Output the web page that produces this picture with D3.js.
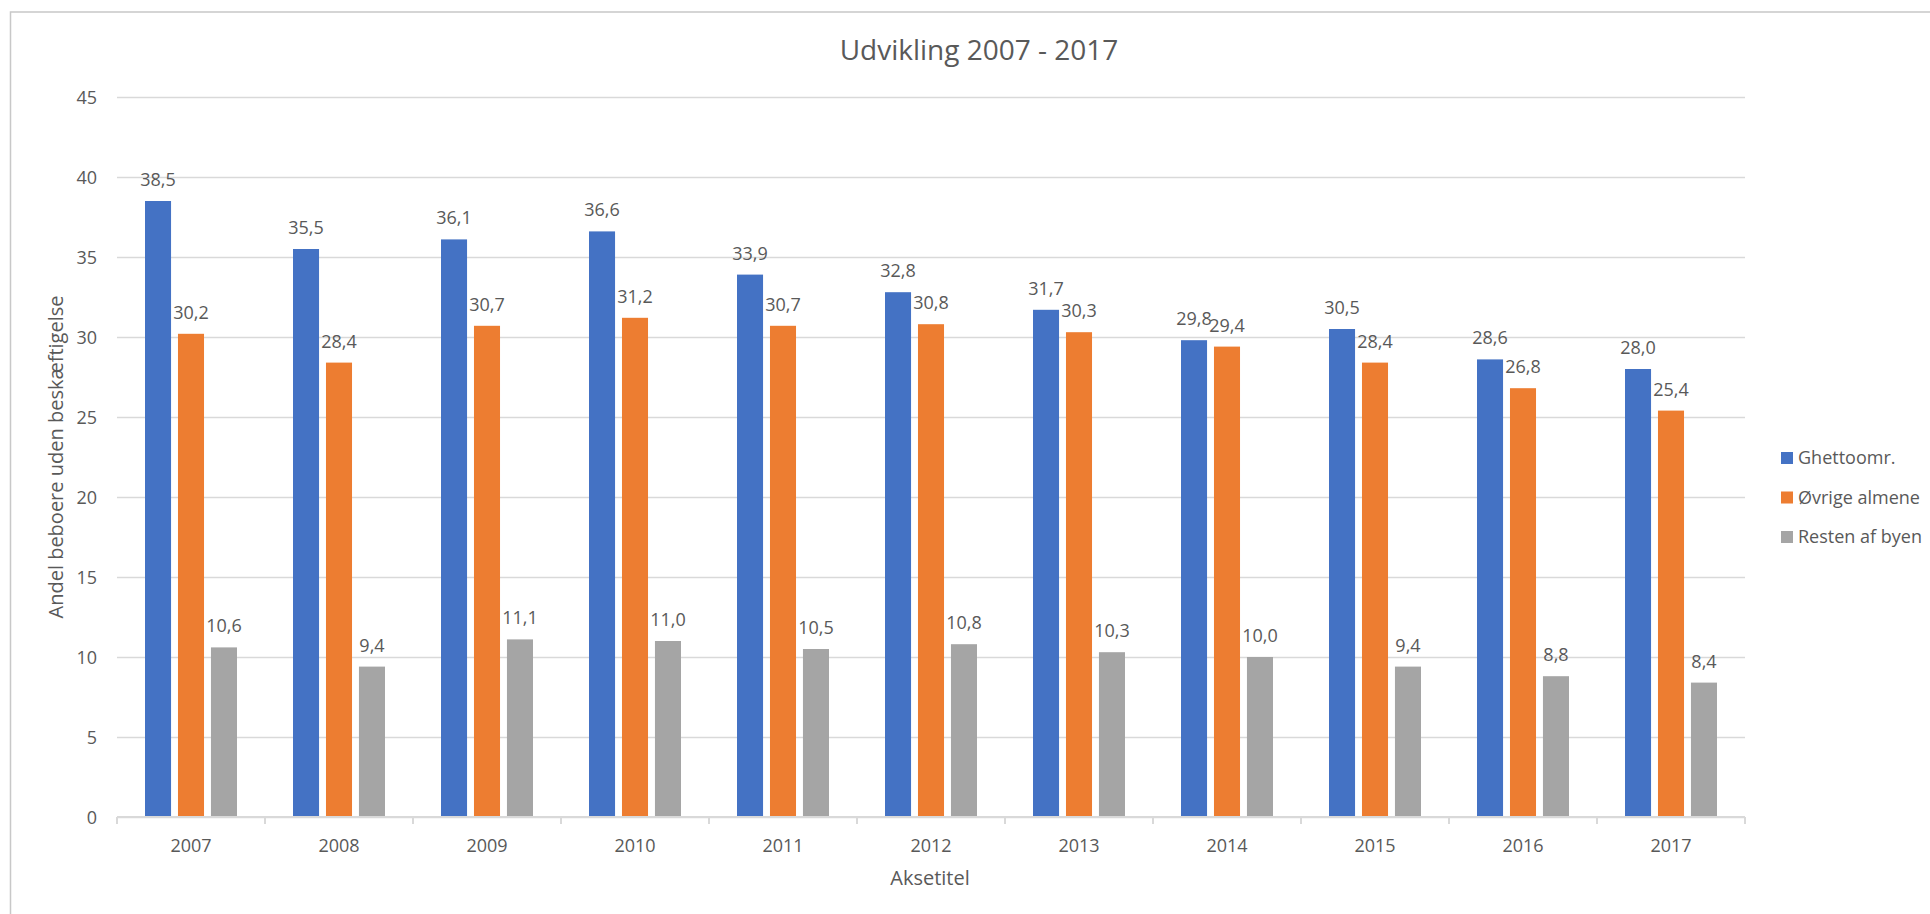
<!DOCTYPE html>
<html>
<head>
<meta charset="utf-8">
<script src="https://cdn.jsdelivr.net/npm/d3@7"></script>
<style>
  html, body { margin: 0; padding: 0; background: #fff; }
  svg { display: block; font-family: "Open Sans", "Noto Sans", sans-serif; }
</style>
</head>
<body>
<svg id="chart" width="1930" height="914"></svg>
<script>
const years = ["2007","2008","2009","2010","2011","2012","2013","2014","2015","2016","2017"];
const seriesNames = ["Ghettoomr.", "Øvrige almene", "Resten af byen"];
const ghetto = [38.5, 35.5, 36.1, 36.6, 33.9, 32.8, 31.7, 29.8, 30.5, 28.6, 28.0];
const ovrige = [30.2, 28.4, 30.7, 31.2, 30.7, 30.8, 30.3, 29.4, 28.4, 26.8, 25.4];
const resten = [10.6, 9.4, 11.1, 11.0, 10.5, 10.8, 10.3, 10.0, 9.4, 8.8, 8.4];
const yTicks = [0, 5, 10, 15, 20, 25, 30, 35, 40, 45];
const colors = ["#4472C4", "#ED7D31", "#A5A5A5"];
const titleText = "Udvikling 2007 - 2017";
const yTitle = "Andel beboere uden beskæftigelse";
const xTitle = "Aksetitel";

const seriesValues = [ghetto, ovrige, resten];
const textColor = "#595959";
const gridColor = "#D9D9D9";

const svg = d3.select("#chart");
const pLeft = 117, pRight = 1745, pTop = 97, pBottom = 817;

// chart border
svg.append("rect").attr("x", 10.5).attr("y", 12).attr("width", 1930).attr("height", 1000)
  .attr("fill", "none").attr("stroke", "#C8C8C8").attr("stroke-width", 1.5);

const x0 = d3.scaleBand().domain(years).range([pLeft, pRight]).padding(0);
const groupW = 92;
const x1 = d3.scaleBand().domain(seriesNames)
  .range([(x0.bandwidth() - groupW) / 2, (x0.bandwidth() + groupW) / 2])
  .paddingInner(0.21).paddingOuter(0);
const y = d3.scaleLinear().domain([0, 45]).range([pBottom, pTop]);

const loc = d3.formatLocale({decimal: ",", thousands: ".", grouping: [3], currency: ["", " kr."]});
const fmt = loc.format(".1f");

// gridlines
const yAxis = d3.axisLeft(y).tickValues(yTicks).tickSize(-(pRight - pLeft)).tickPadding(20).tickFormat(d3.format("d"));
const gy = svg.append("g").attr("transform", `translate(${pLeft},0)`).call(yAxis);
gy.select(".domain").remove();
gy.selectAll(".tick line").attr("stroke", gridColor).attr("stroke-width", 1.3);
gy.selectAll(".tick text").attr("fill", textColor).attr("font-size", 18)
  .attr("font-family", '"Open Sans", sans-serif').attr("x", -20).attr("dy", "0.34em");

// bars
const groups = svg.append("g").selectAll("g").data(years).join("g")
  .attr("transform", d => `translate(${x0(d)},0)`);
groups.selectAll("rect")
  .data((d, i) => seriesNames.map((s, k) => ({s, k, v: seriesValues[k][i]})))
  .join("rect")
  .attr("x", d => x1(d.s))
  .attr("width", x1.bandwidth())
  .attr("y", d => y(d.v))
  .attr("height", d => y(0) - y(d.v))
  .attr("fill", d => colors[d.k]);
groups.selectAll("text")
  .data((d, i) => seriesNames.map((s, k) => ({s, k, v: seriesValues[k][i]})))
  .join("text")
  .attr("x", d => x1(d.s) + x1.bandwidth() / 2)
  .attr("y", d => y(d.v) - 15)
  .attr("text-anchor", "middle")
  .attr("font-size", 18)
  .attr("fill", textColor)
  .text(d => fmt(d.v));

// x axis
const xAxis = d3.axisBottom(x0).tickSize(0).tickPadding(0);
const gx = svg.append("g").attr("transform", `translate(0,${pBottom})`).call(xAxis);
gx.select(".domain").remove();
gx.selectAll(".tick text").attr("fill", textColor).attr("font-size", 18)
  .attr("font-family", '"Open Sans", sans-serif').attr("y", 35).attr("dy", 0);
svg.append("line").attr("x1", pLeft).attr("x2", pRight).attr("y1", pBottom).attr("y2", pBottom)
  .attr("stroke", gridColor).attr("stroke-width", 2);
const boundaries = years.map(d => x0(d)).concat([pRight]);
svg.append("g").selectAll("line").data(boundaries).join("line")
  .attr("x1", d => d).attr("x2", d => d).attr("y1", pBottom).attr("y2", pBottom + 7)
  .attr("stroke", gridColor).attr("stroke-width", 2);

// title
svg.append("text").attr("x", 979).attr("y", 60).attr("text-anchor", "middle")
  .attr("font-size", 28).attr("fill", textColor).text(titleText);
// axis titles
svg.append("text").attr("x", (pLeft + pRight) / 2 - 1).attr("y", 885).attr("text-anchor", "middle")
  .attr("font-size", 20).attr("fill", textColor).text(xTitle);
svg.append("text").attr("transform", `translate(63,${(pTop + pBottom) / 2}) rotate(-90)`)
  .attr("text-anchor", "middle").attr("font-size", 20).attr("fill", textColor).text(yTitle);

// legend
const legend = svg.append("g").selectAll("g").data(seriesNames).join("g")
  .attr("transform", (d, i) => `translate(1781,${458 + i * 39.5})`);
legend.append("rect").attr("x", 0).attr("y", -6).attr("width", 12).attr("height", 12)
  .attr("fill", (d, i) => colors[i]);
legend.append("text").attr("x", 17).attr("y", 0).attr("dy", "0.35em")
  .attr("font-size", 18).attr("fill", textColor).text(d => d);
</script>
</body>
</html>
